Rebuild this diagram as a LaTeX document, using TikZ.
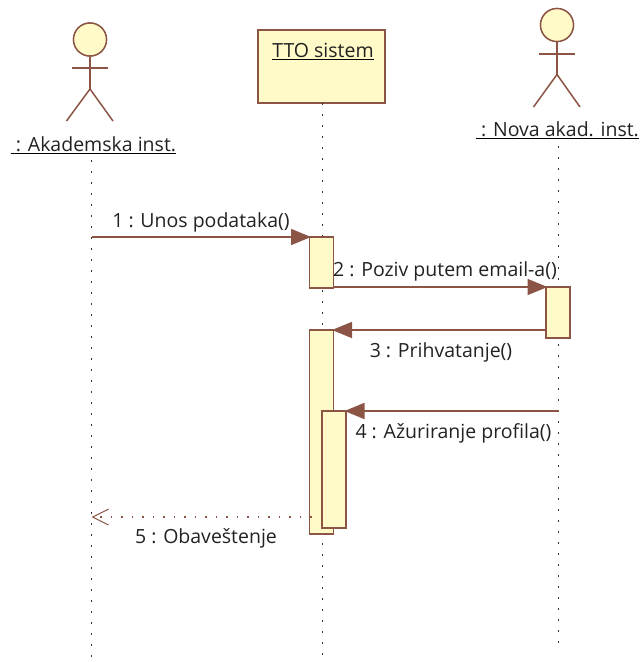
\documentclass[tikz,border=0pt]{standalone}
\usepackage{fontspec}
\setmainfont{Open Sans}
\usepackage{tikz}
\usetikzlibrary{arrows.meta}
\definecolor{umlline}{RGB}{140, 84, 68}
\definecolor{umlfill}{RGB}{255, 250, 200}
\definecolor{umltext}{RGB}{34, 34, 34}
\tikzstyle{actorhead} = [circle, draw=umlline, line width=1.4pt, fill=umlfill, inner sep=0pt, minimum size=33pt]
\tikzstyle{limb} = [draw=umlline, line width=1.5pt]
\tikzstyle{objbox} = [rectangle, draw=umlline, line width=1.8pt, fill=umlfill, inner sep=0pt, outer sep=0pt]
\tikzstyle{activation} = [objbox, anchor=north west]
\tikzstyle{textonly} = [draw=none, fill=none, text=umltext, inner sep=0pt, font=\fontsize{19.5}{22}\selectfont]
\tikzstyle{objname} = [textonly, text depth=2pt]
\tikzstyle{uline} = [draw=black, line width=1pt]
\tikzstyle{lifeline} = [draw=black!80, line width=1.7pt, dash pattern=on 1.7pt off 9.3pt]
\tikzstyle{msg} = [draw=umlline, line width=1.6pt, shorten >=-1.5pt, -{Triangle[length=20pt, width=16pt]}]
\tikzstyle{reply} = [draw=umlline, line width=1.3pt, dash pattern=on 1.5pt off 9pt, -{Straight Barb[length=16pt, width=16pt, line width=1pt]}]

\begin{document}
\begin{tikzpicture}[x=1pt, y=-1pt]
\useasboundingbox (0,0) rectangle (641,662);

% lifeline ends =============================
\coordinate (end1) at (91.5,660);
\coordinate (end2) at (322.5,660);
\coordinate (end3) at (558.5,645);

% actors and object
\node[objname, anchor=south] (inst) at (93.5,153.5) {\ : Akademska inst.};
\node[actorhead] (head1) at (90,39.5) {};
\coordinate (neck1) at (90,89);
\node[objname, anchor=south] (nova) at (557.5,138.5) {\ : Nova akad. inst.};
\node[actorhead] (head2) at (557,25) {};
\coordinate (neck2) at (557,74.5);
\node[objbox, minimum width=127pt, minimum height=73pt, anchor=north west] (sys) at (258,30) {};
\node[objname, anchor=south] (sysname) at (323,59.5) {TTO sistem};

% lifelines
\path[lifeline] (91.5,160) -- (end1);
\path[lifeline] (sys.south -| end2) -- (end2);
\path[lifeline] (558.5,146) -- (end3);

% underlines
\path[uline] (inst.south west) -- (inst.south east);
\path[uline] (nova.south west) -- (nova.south east);
\path[uline] (sysname.south west) -- (sysname.south east);

% stick figures
\foreach \h/\n/\la/\ra/\ay/\ly in {head1/neck1/71.5/108/68/121, head2/neck2/538.5/575/54/107}{
  \path[limb] (\h) -- (\n);
  \path[limb] (\la,\ay) -- (\ra,\ay);
  \path[limb] (\la-5,\ly) -- (\n) -- (\ra+5,\ly);
  \node[actorhead] at (\h) {};
}

% activations
\node[activation, minimum width=24pt, minimum height=51pt] (act1) at (309.5,237) {};
\node[activation, minimum width=24pt, minimum height=51pt] (act2) at (546,287) {};
\node[activation, minimum width=24pt, minimum height=204pt] (act3) at (309.5,330) {};
\node[activation, minimum width=24pt, minimum height=117pt] (act4) at (322,411) {};

% messages
\coordinate (from1) at (91.5,237);
\coordinate (from4) at (558.5,411);
\coordinate (from5) at (322,517);
\coordinate (to5) at (91.5,517);
\path[msg] (from1) -- (act1.north west);
\path[msg] (act1.east |- act2.north) -- (act2.north west);
\path[msg] (act2.west |- act3.north) -- (act3.north east);
\path[msg] (from4) -- (act4.north east);
\path[reply] (from5) -- (to5);

% message labels
\node[textonly] (lab1) at (201,222) {1 : Unos podataka()};
\node[textonly] (lab2) at (445,271) {2 : Poziv putem email-a()};
\node[textonly] (lab3) at (441,352) {3 : Prihvatanje()};
\node[textonly] (lab4) at (453.5,433) {4 : Ažuriranje profila()};
\node[textonly] (lab5) at (206,538) {5 : Obaveštenje};

\end{tikzpicture}
\end{document}
